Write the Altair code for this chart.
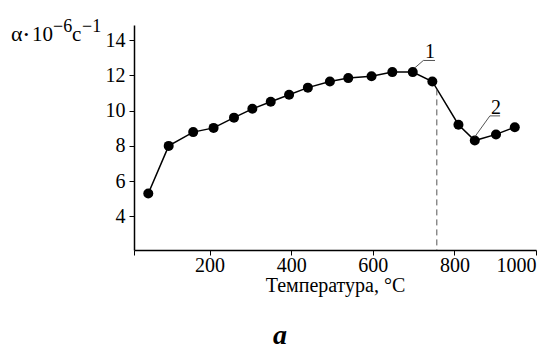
import altair as alt
import pandas as pd

# Data
temps = [50, 100, 160, 210, 260, 305, 350, 395, 441, 495, 540, 597, 648, 698, 746, 810, 850, 902, 948]
alpha = [5.3, 8.0, 8.78, 9.02, 9.6, 10.1, 10.5, 10.9, 11.3, 11.65, 11.84, 11.95, 12.18, 12.18, 11.65, 9.2, 8.3, 8.65, 9.06]

x_ticks = [15, 200, 400, 600, 800, 1000]
y_ticks = [4, 6, 8, 10, 12, 14]
x_domain = [15, 1000]
y_domain = [2.1, 14.85]

# dashed marker line
dash_t = [757, 757]
dash_a = [11.2, 2.1]

# annotation leaders (polyline: point -> diagonal -> underline)
lead1_t = [703.5, 724, 752.6]
lead1_a = [12.43, 12.84, 12.84]
lead2_t = [850.6, 887, 912]
lead2_a = [8.53, 9.7, 9.7]
label_text = ["1", "2"]
label_t = [740, 902]
label_a = [12.97, 9.79]

FONT = "Liberation Serif"

df = pd.DataFrame({"T": temps, "a": alpha})
xs = alt.Scale(domain=x_domain, nice=False, zero=False)
ys = alt.Scale(domain=y_domain, nice=False, zero=False)

xaxis = alt.Axis(values=x_ticks, format="d",
                 labelExpr="datum.value < 100 ? '' : datum.label",
                 title="Температура, °C", titleFont=FONT, titleFontSize=20,
                 titleFontWeight="normal", titleColor="black", titlePadding=0,
                 labelFont=FONT, labelFontSize=20, labelColor="black", labelPadding=0,
                 tickSize=5, tickColor="black", domainColor="black", domainWidth=1.5,
                 tickWidth=1, grid=False)
yaxis = alt.Axis(values=y_ticks, title=None, labelFont=FONT, labelFontSize=20,
                 labelColor="black", labelPadding=4, tickSize=5, tickColor="black",
                 domainColor="black", domainWidth=1.5, tickWidth=1, grid=False)

base = alt.Chart(df)
line = base.mark_line(color="black", strokeWidth=1.5).encode(
    x=alt.X("T:Q", scale=xs, axis=xaxis),
    y=alt.Y("a:Q", scale=ys, axis=yaxis),
)
pts = base.mark_circle(color="black", opacity=1, size=100).encode(
    x=alt.X("T:Q", scale=xs), y=alt.Y("a:Q", scale=ys))

dash = alt.Chart(pd.DataFrame({"T": dash_t, "a": dash_a})).mark_line(
    color="#555", strokeWidth=1, strokeDash=[6, 4]).encode(
    x=alt.X("T:Q", scale=xs), y=alt.Y("a:Q", scale=ys))

leaders = alt.Chart(pd.DataFrame({
    "T": lead1_t + lead2_t, "a": lead1_a + lead2_a,
    "g": ["1"] * 3 + ["2"] * 3, "o": [0, 1, 2] * 2})).mark_line(
    color="#555", strokeWidth=1).encode(
    x=alt.X("T:Q", scale=xs), y=alt.Y("a:Q", scale=ys), detail="g:N", order="o:Q")

labels = alt.Chart(pd.DataFrame({"T": label_t, "a": label_a, "t": label_text})).mark_text(
    font=FONT, fontSize=20, color="black", baseline="alphabetic", align="center").encode(
    x=alt.X("T:Q", scale=xs), y=alt.Y("a:Q", scale=ys), text="t:N")

# y-axis title pieces with superscripts (pixel positions relative to plot area)
def txt(s, x, y, size, **kw):
    return alt.Chart(pd.DataFrame({"t": [s]})).mark_text(
        font=FONT, fontSize=size, color="black", align="left", baseline="alphabetic", **kw
    ).encode(x=alt.value(x), y=alt.value(y), text="t:N")

title_parts = [
    txt("α", -123, 16, 22),
    txt("•", -110, 14, 13),
    txt("10", -102, 16, 21),
    txt("−6", -81, 7, 18),
    txt("c", -62, 16, 21),
    txt("−1", -52, 7, 18),
]
letter = alt.Chart(pd.DataFrame({"t": ["a"]})).mark_text(
    font=FONT, fontSize=28, fontWeight="bold", fontStyle="italic", color="black",
    align="center", baseline="alphabetic").encode(
    x=alt.value(146), y=alt.value(319), text="t:N")

chart = alt.layer(line, pts, dash, leaders, labels, letter, *title_parts).properties(
    width=402, height=225,
    autosize=alt.AutoSizeParams(type="none"),
    padding={"left": 134, "top": 25, "right": 24, "bottom": 100},
    background="white",
).configure_view(stroke=None)

chart.save("out.html", embed_options={"renderer": "svg", "actions": False})
